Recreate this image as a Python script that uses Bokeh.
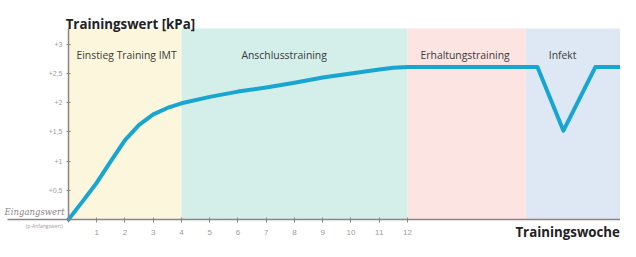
from bokeh.plotting import figure
from bokeh.models import Label, FixedTicker, Range1d
from bokeh.embed import file_html
from bokeh.resources import INLINE

# data
phase_names = ["Einstieg Training IMT", "Anschlusstraining", "Erhaltungstraining", "Infekt"]
phase_start = [0, 4, 12, 16.2]
phase_end = [4, 12, 16.2, 19.6]
phase_colors = ["#fcf6dc", "#d4eeea", "#fce4e3", "#dde8f4"]

weeks = [0, 0.5, 1, 1.5, 2, 2.5, 3, 3.5, 4, 5, 6, 7, 8, 9, 10, 11, 11.5, 12, 16.6, 17.52, 18.65, 19.6]
werte = [0, 0.31, 0.63, 1.0, 1.36, 1.62, 1.8, 1.91, 1.99, 2.1, 2.19, 2.26, 2.34, 2.43, 2.5, 2.57, 2.6, 2.61, 2.61, 1.52, 2.61, 2.61]

x_ticks = [0, 1, 2, 3, 4, 5, 6, 7, 8, 9, 10, 11, 12]
x_tick_labels = ["", "1", "2", "3", "4", "5", "6", "7", "8", "9", "10", "11", "12"]
y_ticks = [0.5, 1, 1.5, 2, 2.5, 3]
y_tick_labels = ["+0,5", "+1", "+1,5", "+2", "+2,5", "+3"]

Y_TOP = 3.27

p = figure(width=620, height=241, output_backend="svg", toolbar_location=None,
           x_range=Range1d(-2.407, 19.54), y_range=Range1d(-0.377, 3.75),
           min_border_left=0, min_border_right=0, min_border_top=0, min_border_bottom=0)
p.outline_line_color = None
p.grid.visible = False
p.background_fill_color = "white"

p.quad(left=phase_start, right=phase_end, bottom=0, top=Y_TOP, fill_color=phase_colors, line_color=None)

p.line(weeks, werte, line_color="#17a6d1", line_width=4, line_join="round", line_cap="round")

axis_col = "#8c8484"
p.yaxis.fixed_location = 0
p.yaxis.bounds = (0, Y_TOP)
p.yaxis.ticker = FixedTicker(ticks=y_ticks)
p.yaxis.major_label_overrides = {t: l for t, l in zip(y_ticks, y_tick_labels)}
p.yaxis.axis_line_color = axis_col
p.yaxis.axis_line_width = 1.5
p.yaxis.major_tick_line_color = axis_col
p.yaxis.major_tick_in = 2
p.yaxis.major_tick_out = 2
p.yaxis.minor_tick_line_color = None
p.yaxis.major_label_text_font_size = "7px"
p.yaxis.major_label_text_color = "#a09a9a"
p.yaxis.major_label_standoff = 4

p.xaxis.fixed_location = 0
p.xaxis.bounds = (-2.16, 19.54)
p.xaxis.ticker = FixedTicker(ticks=x_ticks)
p.xaxis.major_label_overrides = {t: l for t, l in zip(x_ticks, x_tick_labels)}
p.xaxis.axis_line_color = axis_col
p.xaxis.axis_line_width = 1.5
p.xaxis.major_tick_line_color = axis_col
p.xaxis.major_tick_in = 2
p.xaxis.major_tick_out = 3
p.xaxis.minor_tick_line_color = None
p.xaxis.major_label_text_font_size = "8px"
p.xaxis.major_label_text_color = "#a09a9a"
p.xaxis.major_label_standoff = 8

font = "Open Sans"
label_x = [0.28, 6.12, 12.46, 17.0]
for name, lx in zip(phase_names, label_x):
    p.add_layout(Label(x=lx, y=2.81, text=name, text_font=font, text_font_size="10.4px",
                       text_color="#3a3a3a", text_baseline="middle"))

p.add_layout(Label(x=-0.1, y=3.34, text="Trainingswert [kPa]", text_font=font, text_font_style="bold",
                   text_font_size="13.3px", text_color="#222222", text_baseline="alphabetic"))
p.add_layout(Label(x=19.52, y=-0.36, text="Trainingswoche", text_font=font, text_font_style="bold",
                   text_font_size="13.3px", text_color="#222222", text_align="right", text_baseline="bottom"))
p.add_layout(Label(x=-0.14, y=0.04, text="Eingangswert", text_font="DejaVu Serif", text_font_style="italic",
                   text_font_size="8.5px", text_color="#8a8585", text_align="right", text_baseline="bottom"))
p.add_layout(Label(x=-0.2, y=-0.12, text="(p-Anfangswert)", text_font=font,
                   text_font_size="5px", text_color="#a09a9a", text_align="right", text_baseline="middle"))

open("out.html", "w").write(file_html(p, INLINE))
